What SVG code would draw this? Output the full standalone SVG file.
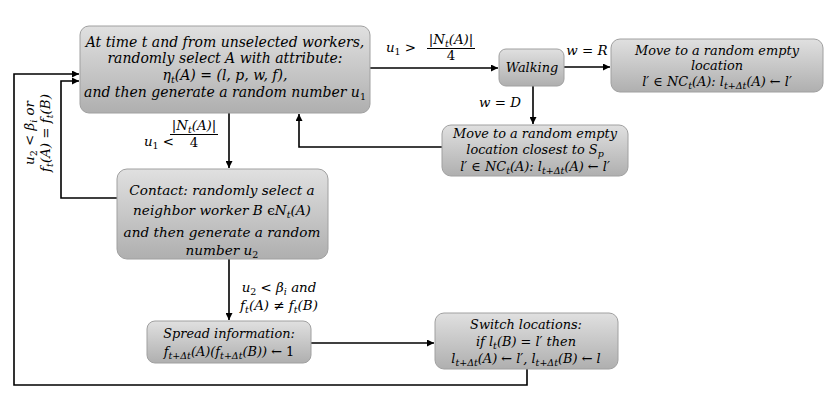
<svg xmlns="http://www.w3.org/2000/svg" width="830" height="404" viewBox="0 0 830 404">
<defs>
<linearGradient id="g" x1="0" y1="0" x2="0" y2="1">
<stop offset="0" stop-color="#e0e0e0"/>
<stop offset="1" stop-color="#afafaf"/>
</linearGradient>
<marker id="ah" viewBox="0 0 10 10" refX="10" refY="5" markerWidth="7" markerHeight="7" markerUnits="userSpaceOnUse" orient="auto">
<path d="M0,0 L10,5 L0,10 z" fill="#000"/>
</marker>
</defs>
<style>
.box{fill:url(#g);stroke:#a0a0a0;stroke-width:1}
.t{font-family:'DejaVu Serif',serif;font-style:italic;fill:#000;text-anchor:middle}
.m{font-size:14px}
.k{font-size:13.6px}
.s{font-size:12.9px}
.l{font-size:13.4px}
.sub{font-size:9.5px}
.up{font-style:normal}
.c{fill:none;stroke:#000;stroke-width:1.6}
.ar{marker-end:url(#ah)}
</style>
<rect width="830" height="404" fill="#fff"/>

<g id="connectors">
<path class="c ar" d="M527,369 V385 H14 V74 H79"/>
<path class="c ar" d="M117,198 H61 V81 H79"/>
<path class="c ar" d="M442,147 H299 V114"/>
<path class="c ar" d="M370,68 H498"/>
<path class="c ar" d="M564,67 H610"/>
<path class="c ar" d="M533,86 V124"/>
<path class="c ar" d="M229,113 V168"/>
<path class="c ar" d="M229,259 V320"/>
<path class="c ar" d="M311,343 H434"/>
</g>

<g font-family="'DejaVu Serif', serif">
<g id="labels">
<text class="t l" x="401" y="52">u<tspan class="sub up" baseline-shift="-3">1</tspan><tspan class="up"> &gt;</tspan></text>
<text class="t l" x="451" y="44">|N<tspan class="sub" baseline-shift="-3">t</tspan>(A)|</text>
<line x1="427" y1="48.5" x2="475" y2="48.5" stroke="#000" stroke-width="1"/>
<text class="t l up" x="451" y="60">4</text>

<text class="t l" x="159" y="146">u<tspan class="sub up" baseline-shift="-3">1</tspan><tspan class="up"> &lt;</tspan></text>
<text class="t l" x="194" y="130">|N<tspan class="sub" baseline-shift="-3">t</tspan>(A)|</text>
<line x1="170" y1="134.5" x2="218" y2="134.5" stroke="#000" stroke-width="1"/>
<text class="t l up" x="194" y="147">4</text>

<text class="t l" x="587" y="55">w <tspan class="up">=</tspan> R</text>
<text class="t l" x="500" y="107">w <tspan class="up">=</tspan> D</text>

<text class="t l" x="279" y="292">u<tspan class="sub up" baseline-shift="-3">2</tspan><tspan class="up"> &lt; </tspan>β<tspan class="sub" baseline-shift="-3">i</tspan> and</text>
<text class="t l" x="279" y="310">f<tspan class="sub" baseline-shift="-3">t</tspan>(A) <tspan class="up">≠</tspan> f<tspan class="sub" baseline-shift="-3">t</tspan>(B)</text>

<g transform="translate(34,133) rotate(-90)">
<text class="t l" x="0" y="0">u<tspan class="sub up" baseline-shift="-3">2</tspan><tspan class="up"> &lt; </tspan>β<tspan class="sub" baseline-shift="-3">i</tspan> or</text>
</g>
<g transform="translate(50,133) rotate(-90)">
<text class="t l" x="0" y="0">f<tspan class="sub" baseline-shift="-3">t</tspan>(A) <tspan class="up">=</tspan> f<tspan class="sub" baseline-shift="-3">t</tspan>(B)</text>
</g>
</g>

<g id="select">
<rect class="box" x="80" y="26" width="290" height="87" rx="9"/>
<text class="t m" x="225" y="47">At time t and from unselected workers,</text>
<text class="t m" x="225" y="63">randomly select  A with attribute:</text>
<text class="t m" x="225" y="80">η<tspan class="sub" baseline-shift="-3">t</tspan>(A) <tspan class="up">=</tspan> (l, p, w, f),</text>
<text class="t m" x="225" y="97">and then generate a random number u<tspan class="sub up" baseline-shift="-3">1</tspan></text>
</g>

<g id="walking">
<rect class="box" x="499" y="49" width="65" height="37" rx="7"/>
<text class="t s" x="532" y="72">Walking</text>
</g>

<g id="moveRandom">
<rect class="box" x="611" y="39" width="212" height="53" rx="9"/>
<text class="t s" x="717" y="55">Move to a random  empty</text>
<text class="t s" x="717" y="70">location</text>
<text class="t s" x="717" y="86">l′ <tspan class="up">∈</tspan> NC<tspan class="sub" baseline-shift="-3">t</tspan>(A): l<tspan class="sub" baseline-shift="-3">t+Δt</tspan>(A) <tspan class="up">←</tspan> l′</text>
</g>

<g id="moveClosest">
<rect class="box" x="442" y="125" width="186" height="51" rx="9"/>
<text class="t s" x="535" y="138">Move to a random  empty</text>
<text class="t s" x="535" y="154">location closest to S<tspan class="sub" baseline-shift="-3">p</tspan></text>
<text class="t s" x="535" y="171">l′ <tspan class="up">∈</tspan> NC<tspan class="sub" baseline-shift="-3">t</tspan>(A): l<tspan class="sub" baseline-shift="-3">t+Δt</tspan>(A) <tspan class="up">←</tspan> l′</text>
</g>

<g id="contact">
<rect class="box" x="117" y="169" width="211" height="90" rx="10"/>
<text class="t k" x="222" y="195">Contact: randomly select a</text>
<text class="t k" x="222" y="215">neighbor worker B <tspan class="up">ϵ</tspan>N<tspan class="sub" baseline-shift="-3">t</tspan>(A)</text>
<text class="t k" x="222" y="237">and then generate a random</text>
<text class="t k" x="222" y="255">number u<tspan class="sub up" baseline-shift="-3">2</tspan></text>
</g>

<g id="spread">
<rect class="box" x="147" y="321" width="164" height="42" rx="8"/>
<text class="t s" x="229" y="338">Spread information:</text>
<text class="t s" x="229" y="356">f<tspan class="sub" baseline-shift="-3">t+Δt</tspan>(A)(f<tspan class="sub" baseline-shift="-3">t+Δt</tspan>(B)) <tspan class="up">← 1</tspan></text>
</g>

<g id="switch">
<rect class="box" x="435" y="313" width="183" height="56" rx="9"/>
<text class="t s" x="526" y="329">Switch locations:</text>
<text class="t s" x="526" y="346">if  l<tspan class="sub" baseline-shift="-3">t</tspan>(B) <tspan class="up">=</tspan> l′ then</text>
<text class="t s" x="526" y="363">l<tspan class="sub" baseline-shift="-3">t+Δt</tspan>(A) <tspan class="up">←</tspan> l′, l<tspan class="sub" baseline-shift="-3">t+Δt</tspan>(B) <tspan class="up">←</tspan> l</text>
</g>
</g>
</svg>
